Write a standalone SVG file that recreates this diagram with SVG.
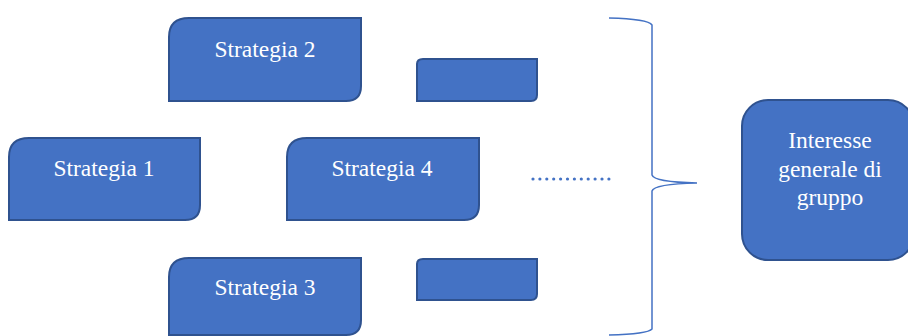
<svg xmlns="http://www.w3.org/2000/svg" width="908" height="336" viewBox="0 0 908 336">
  <style>
    .box { fill: #4472C4; stroke: #2F528F; stroke-width: 2; }
    .lbl { font-family: "Liberation Serif", "Times New Roman", serif; font-size: 23.5px; fill: #FFFFFF; text-anchor: middle; }
    .brace { fill: none; stroke: #4472C4; stroke-width: 1.5; }
    .dots { fill: none; stroke: #4472C4; stroke-width: 3.2; stroke-linecap: round; stroke-dasharray: 0 6.9; }
  </style>
  <rect width="908" height="336" fill="#FFFFFF"/>

  <!-- Rectangles with top-left and bottom-right corners rounded -->
  <g id="strategia-2">
    <path class="box" d="M169,37 Q169,18 189,18 L361,18 L361,86 Q361,101 346,101 L169,101 Z"/>
    <text class="lbl" x="265" y="57">Strategia 2</text>
  </g>
  <g id="strategia-1">
    <path class="box" d="M9,157 Q9,138 29,138 L200,138 L200,205 Q200,220 185,220 L9,220 Z"/>
    <text class="lbl" x="104" y="176">Strategia 1</text>
  </g>
  <g id="strategia-4">
    <path class="box" d="M287,157 Q287,138 307,138 L479,138 L479,205 Q479,220 464,220 L287,220 Z"/>
    <text class="lbl" x="382" y="176">Strategia 4</text>
  </g>
  <g id="strategia-3">
    <path class="box" d="M169,277 Q169,258 189,258 L361,258 L361,320 Q361,335 346,335 L169,335 Z"/>
    <text class="lbl" x="265" y="295">Strategia 3</text>
  </g>
  <g id="extra-1">
    <path class="box" d="M417,64 Q417,59 423,59 L537,59 L537,95 Q537,101 531,101 L417,101 Z"/>
  </g>
  <g id="extra-2">
    <path class="box" d="M417,264 Q417,259 423,259 L537,259 L537,294 Q537,300 531,300 L417,300 Z"/>
  </g>

  <g id="interesse">
    <rect class="box" x="742" y="100" width="172" height="160" rx="26" ry="26"/>
    <text class="lbl" x="830" y="148">Interesse</text>
    <text class="lbl" x="830" y="177">generale di</text>
    <text class="lbl" x="830" y="205">gruppo</text>
  </g>

  <!-- Connectors: dotted continuation and grouping brace -->
  <g id="connectors">
    <path class="dots" d="M533,179 L610,179"/>
    <path class="brace" d="M609,18 Q648,19 652,25 L652,175 Q654,182 697,183 Q654,184 652,191 L652,329 Q648,334 609,335"/>
  </g>
</svg>
